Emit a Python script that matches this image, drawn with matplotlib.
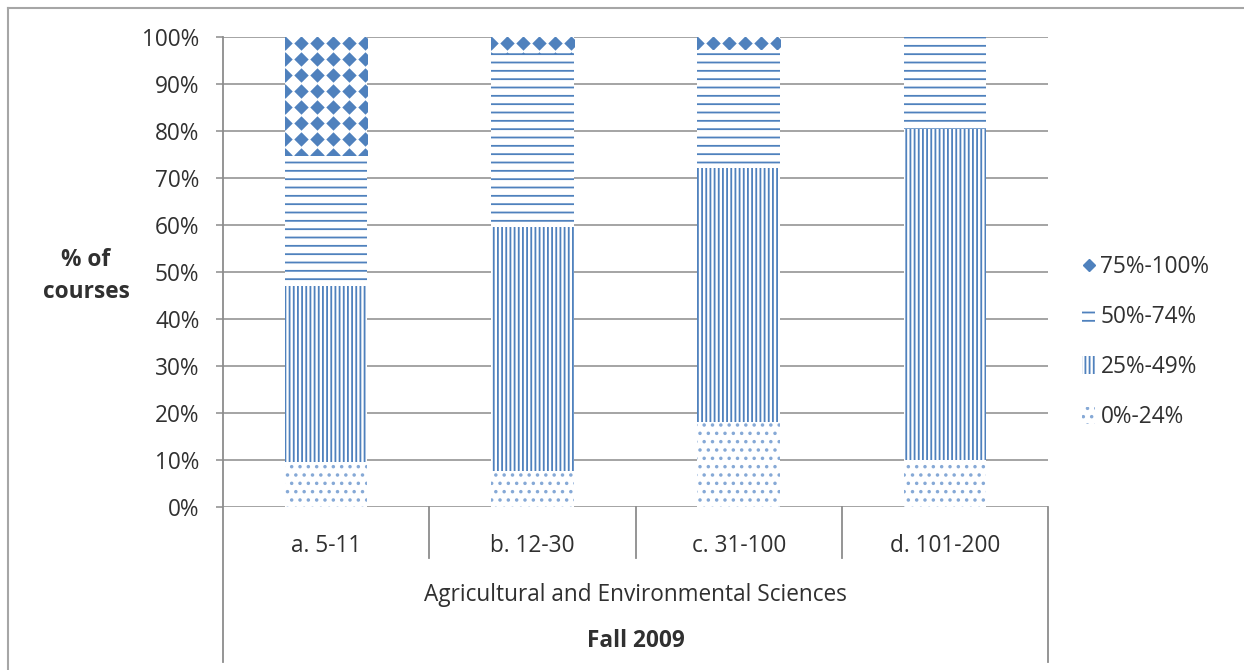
import matplotlib
matplotlib.use("Agg")
import matplotlib.pyplot as plt  # noqa: E402
import numpy as np  # noqa: E402
from matplotlib.lines import Line2D  # noqa: E402
from matplotlib.patches import Patch  # noqa: E402
from matplotlib.ticker import FuncFormatter  # noqa: E402
from matplotlib.transforms import blended_transform_factory  # noqa: E402

# values (% of courses per enrolment band)
categories = ["a. 5-11", "b. 12-30", "c. 31-100", "d. 101-200"]
share_0_24 = [9.5, 7.7, 18.0, 10.0]
share_25_49 = [37.5, 51.9, 54.2, 70.5]
share_50_74 = [28.0, 37.0, 25.3, 19.5]
share_75_100 = [25.0, 3.4, 2.5, 0.0]
series_labels = ["0%-24%", "25%-49%", "50%-74%", "75%-100%"]
group_label = "Agricultural and Environmental Sciences"
term_label = "Fall 2009"
y_label = "% of\ncourses"
y_ticks = list(range(0, 101, 10))

W, H = 1244, 670
BLUE = "#4F81BD"
DOT = "#86A9D6"
GRID = "#8c8c8c"
TEXT = "#303030"
FS = 16.3

plt.rcParams["font.family"] = ["Open Sans", "DejaVu Sans"]
plt.rcParams["hatch.linewidth"] = 1.3


def fx(px):
    return px / W


def fy(py):
    return 1 - py / H


fig = plt.figure(figsize=(W / 100, H / 100), dpi=100)
ax = fig.add_axes([fx(223), fy(507), fx(1048) - fx(223), fy(37) - fy(507)])

x = np.arange(len(categories))
width = 0.4
bottom = np.zeros(len(categories))
for vals, hatch, col in zip([share_0_24, share_25_49, share_50_74],
                            ["..", "||||", "--"], [DOT, BLUE, BLUE]):
    ax.bar(x, vals, width, bottom=bottom, color="white", edgecolor=col,
           linewidth=0, hatch=hatch, zorder=2)
    bottom += np.array(vals)

top_bars = ax.bar(x, share_75_100, width, bottom=bottom, color="white",
                  linewidth=0, zorder=2)

ax.set_xlim(-0.5, len(categories) - 0.5)
ax.set_ylim(0, 100)

# diamond fill for the top band: grid of 'D' markers clipped to each bar
px_x = (fx(1048) - fx(223)) * W / len(categories)   # px per x unit
px_y = (fy(37) - fy(507)) * H / 100                 # px per y unit
dx, dy = 16 / px_x, 16 / px_y
for bar in top_bars:
    if bar.get_height() <= 0:
        continue
    x0 = bar.get_x()
    y0, y1 = bar.get_y(), bar.get_y() + bar.get_height()
    cols = x0 + dx * np.arange(int(bar.get_width() / dx) + 2)
    rows = (y1 - 1.2) - dy * np.arange(int((y1 - y0) / dy) + 2)
    gx, gy = np.meshgrid(cols, rows)
    sc = ax.scatter(gx.ravel(), gy.ravel(), marker="D", s=54, color=BLUE,
                    linewidths=0, zorder=3)
    sc.set_clip_path(bar)

ax.set_yticks(y_ticks)
ax.yaxis.set_major_formatter(FuncFormatter(lambda v, _: f"{v:.0f}%"))
ax.tick_params(axis="y", length=5, width=1.1, color=GRID, pad=12,
               labelsize=FS, labelcolor=TEXT)
ax.set_xticks([])
ax.grid(axis="y", color=GRID, linewidth=1.1)
ax.set_axisbelow(True)
for s in ax.spines.values():
    s.set_visible(False)

# category table below the axis
blend = blended_transform_factory(ax.transData, fig.transFigure)
n = len(categories)
for i in range(n + 1):
    xe = i - 0.5
    y_end = fy(662) if i in (0, n) else fy(558)
    top = fy(37) if i == 0 else fy(507)
    ax.add_line(Line2D([xe, xe], [top, y_end], transform=blend, color=GRID,
                       linewidth=1.3, clip_on=False))
for xi, lab in zip(x, categories):
    ax.text(xi, fy(552), lab, transform=blend, ha="center", va="baseline",
            fontsize=FS, color=TEXT)
mid = (n - 1) / 2
ax.text(mid, fy(601), group_label, transform=blend, ha="center",
        va="baseline", fontsize=FS, color=TEXT)
ax.text(mid, fy(647), term_label, transform=blend, ha="center",
        va="baseline", fontsize=FS, fontweight="bold", color=TEXT)

fig.text(fx(86), fy(276), y_label, ha="center", va="center", fontsize=FS,
         fontweight="bold", color=TEXT, linespacing=1.45)

handles = [
    Line2D([], [], marker="D", color=BLUE, linestyle="none", markersize=6),
    Patch(facecolor="white", edgecolor=BLUE, linewidth=0, hatch="--"),
    Patch(facecolor="white", edgecolor=BLUE, linewidth=0, hatch="||||"),
    Patch(facecolor="white", edgecolor=DOT, linewidth=0, hatch=".."),
]
fig.legend(handles, series_labels[::-1], loc="center left",
           bbox_to_anchor=(fx(1062), fy(342)), frameon=False,
           handlelength=0.55, handleheight=0.8, handletextpad=0.25,
           labelspacing=1.15, fontsize=FS, labelcolor=TEXT)

# chart-area border (top and left edges visible in the crop)
fig.add_artist(Line2D([fx(8), 1], [fy(8), fy(8)], color="#a6a6a6",
                      linewidth=1.5))
fig.add_artist(Line2D([fx(8), fx(8)], [fy(8), 0], color="#a6a6a6",
                      linewidth=1.5))

fig.savefig("out.png", dpi=100)
